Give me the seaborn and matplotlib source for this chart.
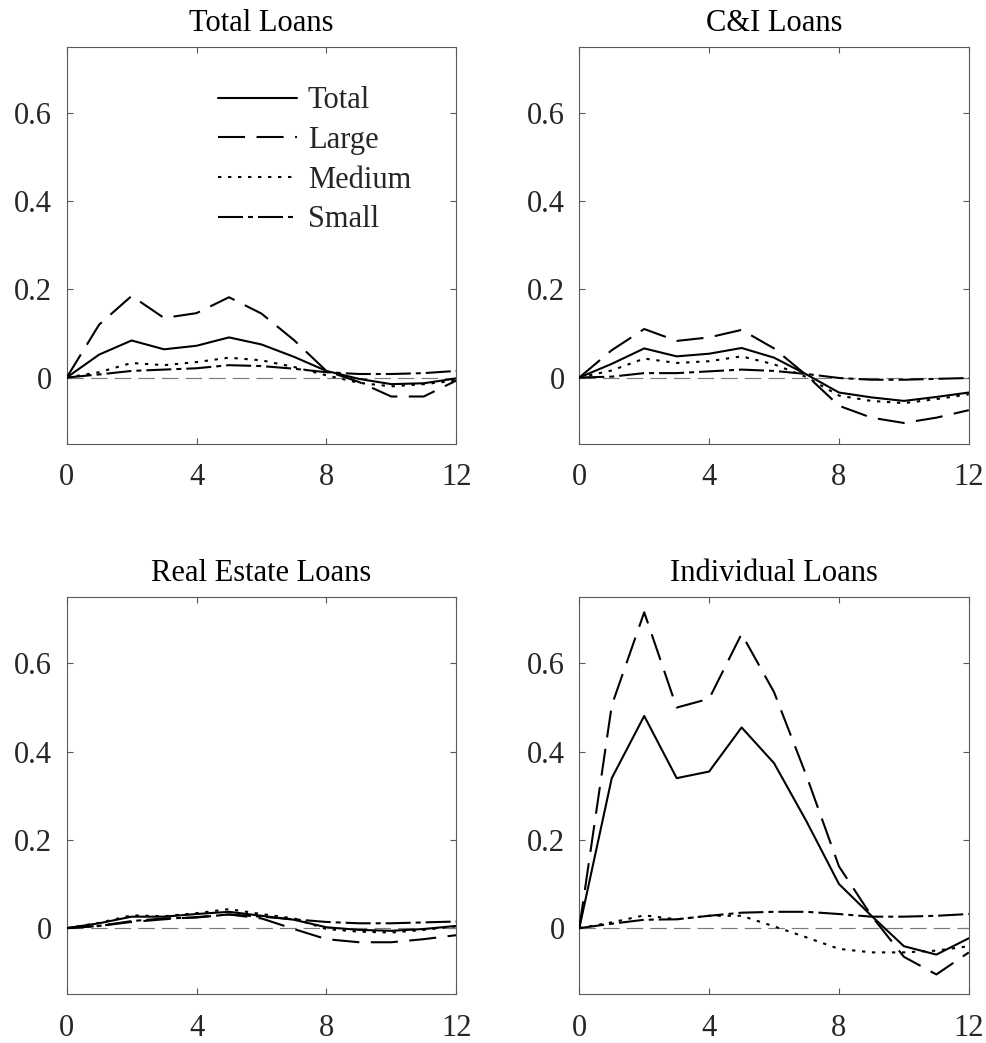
import numpy as np
import pandas as pd
import matplotlib
matplotlib.use("Agg")
import matplotlib.pyplot as plt
import seaborn as sns

horizon = list(range(13))
series_names = ["Total", "Large", "Medium", "Small"]
panel_titles = ["Total Loans", "C&I Loans", "Real Estate Loans", "Individual Loans"]

# Total Loans
tl_total  = [0, 0.052, 0.084, 0.064, 0.072, 0.091, 0.075, 0.047, 0.015, -0.003, -0.015, -0.013, -0.002]
tl_large  = [0, 0.120, 0.185, 0.135, 0.146, 0.182, 0.145, 0.085, 0.015, -0.010, -0.043, -0.043, -0.007]
tl_medium = [0, 0.012, 0.033, 0.028, 0.035, 0.045, 0.039, 0.024, 0.005, -0.012, -0.020, -0.015, -0.007]
tl_small  = [0, 0.007, 0.015, 0.018, 0.021, 0.028, 0.026, 0.020, 0.012, 0.008, 0.008, 0.010, 0.015]

# C&I Loans
ci_total  = [0, 0.031, 0.066, 0.048, 0.054, 0.067, 0.045, 0.007, -0.034, -0.045, -0.053, -0.044, -0.034]
ci_large  = [0, 0.062, 0.110, 0.083, 0.091, 0.108, 0.066, 0.005, -0.064, -0.091, -0.103, -0.091, -0.074]
ci_medium = [0, 0.016, 0.043, 0.033, 0.037, 0.048, 0.030, 0.001, -0.041, -0.053, -0.058, -0.049, -0.038]
ci_small  = [0, 0.002, 0.010, 0.010, 0.014, 0.018, 0.015, 0.008, -0.001, -0.005, -0.005, -0.003, -0.001]

# Real Estate Loans
re_total  = [0, 0.011, 0.026, 0.026, 0.032, 0.037, 0.028, 0.019, 0.002, -0.004, -0.006, -0.002, 0.005]
re_large  = [0, 0.005, 0.014, 0.020, 0.025, 0.031, 0.022, -0.002, -0.025, -0.032, -0.032, -0.025, -0.016]
re_medium = [0, 0.012, 0.029, 0.027, 0.034, 0.043, 0.032, 0.022, -0.002, -0.008, -0.010, -0.004, 0.004]
re_small  = [0, 0.005, 0.016, 0.022, 0.024, 0.031, 0.026, 0.020, 0.014, 0.011, 0.011, 0.013, 0.015]

# Individual Loans
il_total  = [0, 0.340, 0.481, 0.340, 0.355, 0.455, 0.374, 0.242, 0.100, 0.028, -0.041, -0.060, -0.023]
il_large  = [0, 0.505, 0.716, 0.500, 0.520, 0.667, 0.535, 0.345, 0.140, 0.028, -0.065, -0.105, -0.055]
il_medium = [0, 0.013, 0.029, 0.020, 0.028, 0.028, 0.004, -0.021, -0.047, -0.055, -0.055, -0.051, -0.041]
il_small  = [0, 0.010, 0.019, 0.020, 0.028, 0.035, 0.037, 0.037, 0.032, 0.026, 0.026, 0.028, 0.032]

x_ticks = [0, 4, 8, 12]
x_tick_labels = ["0", "4", "8", "12"]
y_ticks = [0, 0.2, 0.4, 0.6]
y_tick_labels = ["0", "0.2", "0.4", "0.6"]

panels = {
    "Total Loans": [tl_total, tl_large, tl_medium, tl_small],
    "C&I Loans": [ci_total, ci_large, ci_medium, ci_small],
    "Real Estate Loans": [re_total, re_large, re_medium, re_small],
    "Individual Loans": [il_total, il_large, il_medium, il_small],
}

rows = []
for p in panel_titles:
    for s, vals in zip(series_names, panels[p]):
        for h, v in zip(horizon, vals):
            rows.append({"panel": p, "series": s, "h": h, "v": v})
df = pd.DataFrame(rows)

sns.set_theme(style="white")
plt.rcParams["font.family"] = ["Liberation Serif", "DejaVu Serif"]
plt.rcParams["mathtext.fontset"] = "stix"

FS = 22
spine_col = "#5a5a5a"
text_col = "#262626"

fig = plt.figure(figsize=(9.87, 10.43), dpi=100)
W, H = 987.0, 1043.0
lefts = [66.7, 579.3]
tops = [46.7, 597.3]
aw, ah = 389.5, 397.0

lw = 1.5
styles = {
    "Total": "-",
    "Large": (0, (13, 5.5)),
    "Medium": (0, (1.6, 3.2)),
    "Small": (0, (12, 2.4, 2.4, 2.4)),
}

for i, title in enumerate(panel_titles):
    r, c = divmod(i, 2)
    ax = fig.add_axes([lefts[c] / W, 1 - (tops[r] + ah) / H, aw / W, ah / H])
    ax.axhline(0, color="#7a7a7a", lw=0.85, linestyle=(0, (14, 6)), zorder=1)
    sub = df[df.panel == title]
    for s in series_names:
        d = sub[sub.series == s]
        sns.lineplot(data=d, x="h", y="v", ax=ax, color="black", lw=lw,
                     linestyle=styles[s], label=s, legend=False,
                     dash_capstyle="butt", zorder=3)
    ax.set_xlim(0, 12)
    ax.set_ylim(-0.15, 0.75)
    ax.set_xticks(x_ticks)
    ax.set_xticklabels(x_tick_labels)
    ax.set_yticks(y_ticks)
    ax.set_yticklabels(y_tick_labels)
    ax.set_xlabel("")
    ax.set_ylabel("")
    ax.tick_params(axis="both", which="both", direction="in", length=4, width=0.8,
                   color=spine_col, labelsize=FS, labelcolor=text_col,
                   top=True, right=True, bottom=True, left=True)
    ax.tick_params(axis="x", pad=14)
    ax.tick_params(axis="y", pad=10.5)
    for sp in ax.spines.values():
        sp.set_visible(True)
        sp.set_color(spine_col)
        sp.set_linewidth(0.8)
    ax.set_title(title, fontsize=FS, color="black", pad=11.5)
    if i == 0:
        handles, labels = ax.get_legend_handles_labels()
        ax.legend(handles[-4:], labels[-4:],
                  loc="upper left", bbox_to_anchor=(0.3887, 0.9),
                  frameon=False, fontsize=FS, borderpad=0, borderaxespad=0,
                  handlelength=2.58, handletextpad=0.35, labelspacing=0.35)

fig.savefig("out.png", dpi=100)
